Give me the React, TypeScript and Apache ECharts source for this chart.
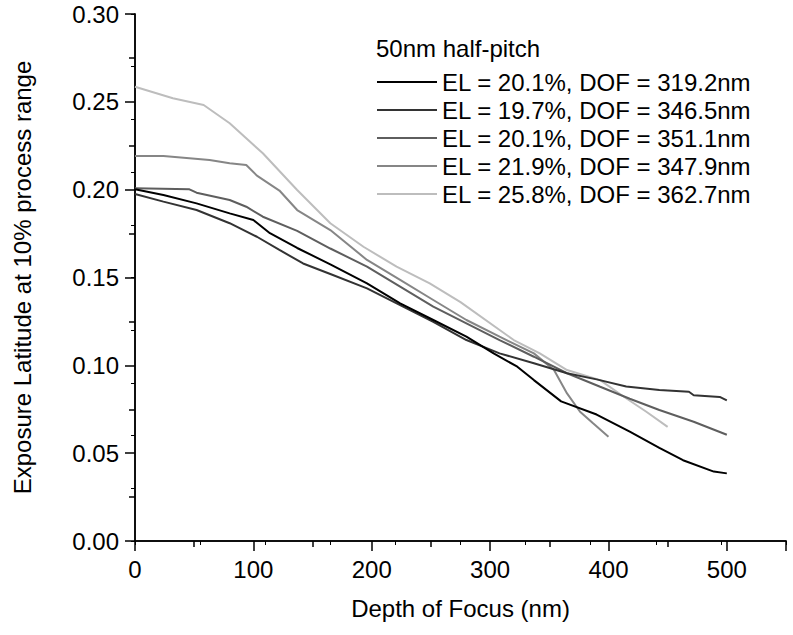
import React, { useEffect, useRef } from "react";
import * as echarts from "echarts";

// Depth of Focus (nm) / Exposure Latitude pairs
const s1X = [0, 24, 52, 80, 100, 114, 137, 165, 196, 224, 252, 280, 303, 323, 337, 360, 390, 418, 443, 463, 489, 500];
const s1Y = [0.2002, 0.197, 0.1922, 0.1865, 0.1827, 0.1752, 0.1668, 0.1575, 0.1467, 0.1353, 0.1258, 0.1163, 0.1068, 0.0992, 0.0916, 0.0795, 0.072, 0.0622, 0.053, 0.046, 0.0395, 0.0385];

const s2X = [0, 24, 52, 80, 103, 122, 142, 165, 196, 224, 252, 280, 308, 337, 365, 390, 415, 443, 468, 472, 494, 500];
const s2Y = [0.1975, 0.1932, 0.1884, 0.1809, 0.1732, 0.1657, 0.158, 0.152, 0.1438, 0.1343, 0.1248, 0.1144, 0.1068, 0.1012, 0.0955, 0.092, 0.088, 0.086, 0.085, 0.083, 0.082, 0.08];

const s3X = [0, 46, 52, 80, 94, 108, 137, 165, 196, 224, 252, 280, 308, 337, 365, 393, 418, 443, 472, 500];
const s3Y = [0.2008, 0.2002, 0.1983, 0.1941, 0.1903, 0.1846, 0.1765, 0.1665, 0.1562, 0.1448, 0.1334, 0.1239, 0.1144, 0.1049, 0.0955, 0.0878, 0.081, 0.0746, 0.0679, 0.0605];

const s4X = [0, 24, 63, 80, 94, 103, 122, 137, 165, 196, 224, 252, 280, 308, 337, 354, 365, 376, 387, 400];
const s4Y = [0.2192, 0.2192, 0.2169, 0.215, 0.214, 0.208, 0.1995, 0.1884, 0.177, 0.16, 0.1486, 0.1372, 0.1258, 0.1163, 0.1068, 0.0973, 0.084, 0.0736, 0.067, 0.0594];

const s5X = [0, 32, 58, 80, 108, 137, 165, 193, 221, 249, 275, 320, 342, 365, 393, 413, 432, 450];
const s5Y = [0.2586, 0.252, 0.2482, 0.2378, 0.2207, 0.1998, 0.1809, 0.1675, 0.1562, 0.1467, 0.136, 0.1144, 0.1068, 0.0973, 0.0916, 0.0821, 0.0736, 0.065];

const seriesNames = [
  "EL = 20.1%, DOF = 319.2nm",
  "EL = 19.7%, DOF = 346.5nm",
  "EL = 20.1%, DOF = 351.1nm",
  "EL = 21.9%, DOF = 347.9nm",
  "EL = 25.8%, DOF = 362.7nm",
];
const seriesColors = ["#000000", "#333333", "#5e5e5e", "#868686", "#bdbdbd"];
const legendTitle = "50nm half-pitch";
const xTitle = "Depth of Focus (nm)";
const yTitle = "Exposure Latitude at 10% process range";

const FONT = "'Liberation Sans', Arial, sans-serif";

export default function App() {
  const ref = useRef<HTMLDivElement>(null);
  useEffect(() => {
    if (!ref.current) return;
    const chart = echarts.init(ref.current, null, { renderer: "svg" });
    const xs = [s1X, s2X, s3X, s4X, s5X];
    const ys = [s1Y, s2Y, s3Y, s4Y, s5Y];
    const axisLine = { show: true, lineStyle: { color: "#000", width: 1.5 } };
    chart.setOption({
      animation: false,
      backgroundColor: "#fff",
      textStyle: { fontFamily: FONT },
      grid: { left: 135, right: 7, top: 14, bottom: 94, containLabel: false },
      legend: {
        orient: "vertical",
        left: 372,
        top: 65,
        icon: "rect",
        itemWidth: 60,
        itemHeight: 2,
        itemGap: 4,
        data: seriesNames,
        textStyle: { fontSize: 24, color: "#000", fontFamily: FONT, lineHeight: 24 },
      },
      graphic: [
        {
          type: "text",
          left: 376,
          top: 36,
          style: { text: legendTitle, fontSize: 24, fill: "#000", fontFamily: FONT },
        },
      ],
      xAxis: [
        {
          type: "value",
          position: "bottom",
          min: 0,
          max: 550,
          interval: 100,
          name: xTitle,
          nameLocation: "middle",
          nameGap: 55,
          nameTextStyle: { fontSize: 24, color: "#000", fontFamily: FONT },
          axisLine,
          axisTick: { show: true, inside: false, length: 10, lineStyle: { color: "#000", width: 1.5 } },
          minorTick: { show: true, splitNumber: 2, length: 6, lineStyle: { color: "#000", width: 1.5 } },
          axisLabel: {
            fontSize: 24,
            color: "#000",
            margin: 16,
            fontFamily: FONT,
            formatter: (v: number) => (v > 500 ? "" : String(v)),
          },
          splitLine: { show: false },
        },
        {
          type: "value",
          position: "top",
          min: 0,
          max: 550,
          interval: 55,
          axisLine,
          axisTick: { show: true, inside: true, length: 4, lineStyle: { color: "#000", width: 1 } },
          axisLabel: { show: false },
          splitLine: { show: false },
        },
      ],
      yAxis: [
        {
          type: "value",
          position: "left",
          min: 0,
          max: 0.3,
          interval: 0.05,
          name: yTitle,
          nameLocation: "middle",
          nameGap: 101,
          nameTextStyle: { fontSize: 24, color: "#000", fontFamily: FONT },
          axisLine,
          axisTick: { show: true, inside: false, length: 10, lineStyle: { color: "#000", width: 1.5 } },
          minorTick: { show: true, splitNumber: 2, length: 6, lineStyle: { color: "#000", width: 1.5 } },
          axisLabel: {
            fontSize: 24,
            color: "#000",
            margin: 16,
            fontFamily: FONT,
            formatter: (v: number) => v.toFixed(2),
          },
          splitLine: { show: false },
        },
        {
          type: "value",
          position: "right",
          min: 0,
          max: 0.3,
          interval: 0.03,
          axisLine,
          axisTick: { show: true, inside: true, length: 4, lineStyle: { color: "#000", width: 1 } },
          axisLabel: { show: false },
          splitLine: { show: false },
        },
      ],
      series: seriesNames.map((name, i) => ({
        name,
        type: "line",
        xAxisIndex: 0,
        yAxisIndex: 0,
        data: xs[i].map((x, j) => [x, ys[i][j]]),
        symbol: "none",
        showSymbol: false,
        color: seriesColors[i],
        itemStyle: { color: seriesColors[i] },
        lineStyle: { color: seriesColors[i], width: 2 },
        z: 10 - i,
      })),
    });
    return () => chart.dispose();
  }, []);
  return (
    <div
      ref={ref}
      style={{ position: "fixed", left: 0, top: 0, width: 793, height: 635 }}
    />
  );
}
